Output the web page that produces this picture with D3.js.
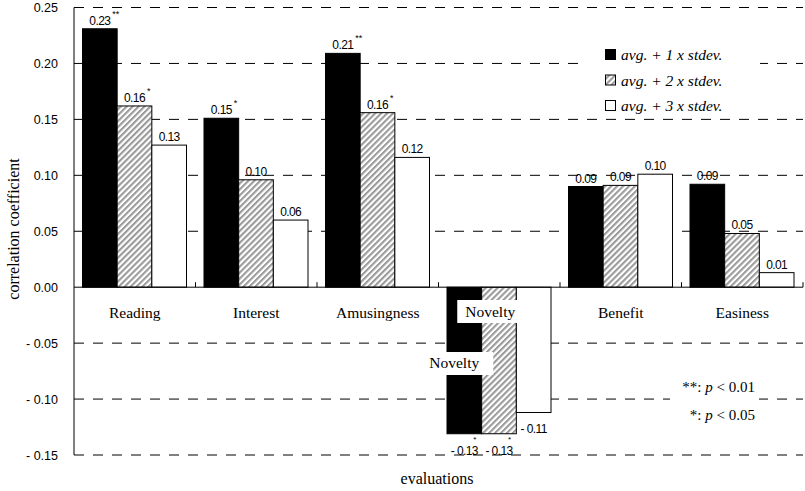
<!DOCTYPE html>
<html>
<head>
<meta charset="utf-8">
<script src="https://cdn.jsdelivr.net/npm/d3@7"></script>
<style>
  body { margin: 0; background: #fff; }
  svg { display: block; }
  .num { font-family: "Liberation Sans", Arial, sans-serif; }
  .serif { font-family: "Liberation Serif", "Times New Roman", serif; }
</style>
</head>
<body>
<div id="chart"></div>
<script>
var categories = ["Reading", "Interest", "Amusingness", "Novelty", "Benefit", "Easiness"];
var seriesNames = ["avg. + 1 x stdev.", "avg. + 2 x stdev.", "avg. + 3 x stdev."];
var values1 = [0.231, 0.151, 0.209, -0.131, 0.090, 0.092];
var values2 = [0.162, 0.096, 0.156, -0.131, 0.091, 0.048];
var values3 = [0.127, 0.060, 0.116, -0.112, 0.101, 0.013];
var labels1 = ["0.23", "0.15", "0.21", "- 0.13", "0.09", "0.09"];
var labels2 = ["0.16", "0.10", "0.16", "- 0.13", "0.09", "0.05"];
var labels3 = ["0.13", "0.06", "0.12", "- 0.11", "0.10", "0.01"];
var stars1 = ["**", "*", "**", "*", "", ""];
var stars2 = ["*", "", "*", "*", "", ""];
var stars3 = ["", "", "", "", "", ""];
var yTicks = [0.25, 0.20, 0.15, 0.10, 0.05, 0.00, -0.05, -0.10, -0.15];

var W = 805, H = 491;
var margin = {top: 7.5, bottom: 36, left: 74, right: 2};

var svg = d3.select("#chart").append("svg")
    .attr("width", W)
    .attr("height", H);

var defs = svg.append("defs");
var pat = defs.append("pattern")
    .attr("id", "hatch")
    .attr("patternUnits", "userSpaceOnUse")
    .attr("width", 4.2).attr("height", 4.2)
    .attr("patternTransform", "rotate(45)");
pat.append("rect").attr("width", 4.2).attr("height", 4.2).attr("fill", "#fff");
pat.append("line").attr("x1", 1).attr("x2", 1).attr("y1", 0).attr("y2", 4.2)
    .attr("stroke", "#9a9a9a").attr("stroke-width", 2.2);

var fills = ["#000", "url(#hatch)", "#fff"];

var y = d3.scaleLinear().domain([-0.15, 0.25]).range([455, 7.5]);
var x0 = d3.scaleBand().domain(categories).range([margin.left, W - margin.right]).padding(0);
var x1 = d3.scaleBand().domain([0, 1, 2]).range([8.5, 112.5]).padding(0);

// gridlines
svg.append("g").selectAll("line")
    .data(yTicks.filter(function(d) { return d !== 0; }))
  .enter().append("line")
    .attr("x1", margin.left).attr("x2", W - margin.right)
    .attr("y1", function(d) { return y(d); })
    .attr("y2", function(d) { return y(d); })
    .attr("stroke", "#000")
    .attr("stroke-width", 1)
    .attr("stroke-dasharray", "10,9");

// y tick labels
svg.append("g").selectAll("text")
    .data(yTicks)
  .enter().append("text")
    .attr("class", "num")
    .attr("x", 58)
    .attr("y", function(d) { return y(d) + 4.5; })
    .attr("text-anchor", "end")
    .attr("font-size", "12.5px")
    .text(function(d) { return d < 0 ? "- " + Math.abs(d).toFixed(2) : d.toFixed(2); });

// bars
var seriesVals = [values1, values2, values3];
var seriesLabels = [labels1, labels2, labels3];
var seriesStars = [stars1, stars2, stars3];
var rows = [];
categories.forEach(function(c, i) {
    for (var s = 0; s < 3; s++) {
        rows.push({cat: c, s: s, v: seriesVals[s][i], label: seriesLabels[s][i], star: seriesStars[s][i]});
    }
});

var bars = svg.append("g");
bars.selectAll("rect")
    .data(rows)
  .enter().append("rect")
    .attr("x", function(d) { return x0(d.cat) + x1(d.s); })
    .attr("width", x1.bandwidth())
    .attr("y", function(d) { return y(Math.max(0, d.v)); })
    .attr("height", function(d) { return Math.abs(y(d.v) - y(0)); })
    .attr("fill", function(d) { return fills[d.s]; })
    .attr("stroke", "#000")
    .attr("stroke-width", 1);

// zero line and category ticks
svg.append("line")
    .attr("x1", margin.left).attr("x2", W - margin.right)
    .attr("y1", y(0)).attr("y2", y(0))
    .attr("stroke", "#000");
svg.append("g").selectAll("line")
    .data(categories)
  .enter().append("line")
    .attr("x1", function(d) { return x0(d) + x0.bandwidth(); })
    .attr("x2", function(d) { return x0(d) + x0.bandwidth(); })
    .attr("y1", y(0)).attr("y2", y(0) - 5)
    .attr("stroke", "#000");

// y axis line
svg.append("line")
    .attr("x1", margin.left).attr("x2", margin.left)
    .attr("y1", y(0.25)).attr("y2", y(-0.15))
    .attr("stroke", "#000");

// value labels
var lab = svg.append("g");
rows.forEach(function(d) {
    var cx = x0(d.cat) + x1(d.s) + x1.bandwidth() / 2;
    if (d.v >= 0) {
        var t = lab.append("text")
            .attr("class", "num")
            .attr("x", cx)
            .attr("y", y(d.v) - 4)
            .attr("text-anchor", "middle")
            .attr("font-size", "12px")
            .attr("letter-spacing", "-0.6px")
            .text(d.label);
        if (d.star) {
            var bb = t.node().getBBox();
            lab.append("text")
                .attr("class", "num")
                .attr("x", bb.x + bb.width + 1)
                .attr("y", y(d.v) - 12)
                .attr("font-size", "9px")
                .text(d.star);
        }
    } else {
        var base = y(d.v) + 21;
        var t2 = lab.append("text")
            .attr("class", "num")
            .attr("x", cx)
            .attr("y", base)
            .attr("text-anchor", "middle")
            .attr("font-size", "12px")
            .attr("letter-spacing", "-0.6px")
            .text(d.label);
        if (d.star) {
            var bb2 = t2.node().getBBox();
            lab.append("text")
                .attr("class", "num")
                .attr("x", bb2.x + bb2.width - 4)
                .attr("y", base - 13)
                .attr("text-anchor", "middle")
                .attr("font-size", "8px")
                .text(d.star);
        }
    }
});

// category labels
var catG = svg.append("g");
categories.forEach(function(c) {
    var cx = x0(c) + x0.bandwidth() / 2;
    if (c === "Novelty") {
        catG.append("rect")
            .attr("x", cx - 42).attr("y", 300)
            .attr("width", 66).attr("height", 23)
            .attr("fill", "#fff");
        catG.append("text")
            .attr("class", "serif")
            .attr("x", cx - 9).attr("y", 317)
            .attr("text-anchor", "middle")
            .attr("font-size", "15.5px")
            .text(c);
        catG.append("rect")
            .attr("x", cx - 74).attr("y", 352)
            .attr("width", 68).attr("height", 23)
            .attr("fill", "#fff");
        catG.append("text")
            .attr("class", "serif")
            .attr("x", cx - 45).attr("y", 368)
            .attr("text-anchor", "middle")
            .attr("font-size", "15.5px")
            .text(c);
    } else {
        catG.append("text")
            .attr("class", "serif")
            .attr("x", cx).attr("y", 318)
            .attr("text-anchor", "middle")
            .attr("font-size", "15.5px")
            .text(c);
    }
});

// legend
var leg = svg.append("g");
leg.append("rect").attr("x", 587).attr("y", 38).attr("width", 173).attr("height", 74).attr("fill", "#fff");
seriesNames.forEach(function(n, i) {
    var cy = 55 + i * 25.5;
    leg.append("rect")
        .attr("x", 605.5).attr("y", cy - 5.5)
        .attr("width", 10).attr("height", 10)
        .attr("fill", fills[i])
        .attr("stroke", "#000");
    leg.append("text")
        .attr("class", "serif")
        .attr("x", 621).attr("y", cy + 5)
        .attr("font-size", "15.5px")
        .attr("font-style", "italic")
        .text(n);
});

// significance note
var note = svg.append("g");
note.append("rect").attr("x", 670).attr("y", 377).attr("width", 89).attr("height", 47).attr("fill", "#fff");
[["**: ", "0.01", 392], ["*: ", "0.05", 420]].forEach(function(r) {
    var t = note.append("text")
        .attr("class", "serif")
        .attr("x", 755).attr("y", r[2])
        .attr("text-anchor", "end")
        .attr("font-size", "15px");
    t.append("tspan").text(r[0]);
    t.append("tspan").attr("font-style", "italic").text("p");
    t.append("tspan").text(" < " + r[1]);
});

// axis titles
svg.append("text")
    .attr("class", "serif")
    .attr("transform", "translate(19,229) rotate(-90)")
    .attr("text-anchor", "middle")
    .attr("font-size", "16px")
    .text("correlation coefficient");
svg.append("text")
    .attr("class", "serif")
    .attr("x", 437).attr("y", 484)
    .attr("text-anchor", "middle")
    .attr("font-size", "16px")
    .text("evaluations");
</script>
</body>
</html>
